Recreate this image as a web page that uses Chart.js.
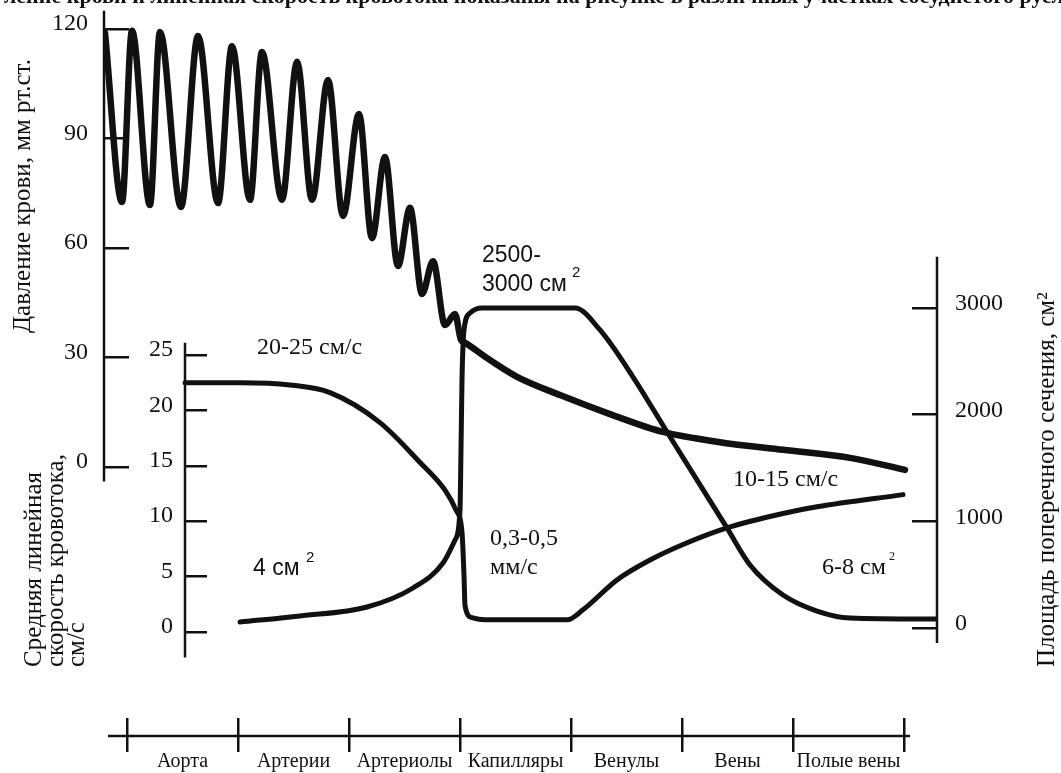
<!doctype html>
<html lang="ru">
<head>
    <meta charset="utf-8">
    <title>Давление крови, скорость кровотока и площадь сечения сосудов</title>
    <script src="https://cdn.jsdelivr.net/npm/chart.js@4.2.1/dist/chart.umd.min.js"></script>
    <style>
        html, body { margin: 0; padding: 0; background: #fff; }
        canvas { display: block; }
    </style>
</head>
<body>
<canvas id="myChart" width="1061" height="773"></canvas>
<script type="text/javascript">
    // отделы сосудистого русла; по оси x 0..7 - границы отделов
    const segments = ['Аорта', 'Артерии', 'Артериолы', 'Капилляры', 'Венулы', 'Вены', 'Полые вены']
    const segmentBounds = [0, 1, 2, 3, 4, 5, 6, 7]

    const pressureTicks = [0, 30, 60, 90, 120]
    const speedTicks = [0, 5, 10, 15, 20, 25]
    const areaTicks = [0, 1000, 2000, 3000]

    // давление крови, мм рт.ст.
    const pressureX = [-0.198, -0.045, 0.045, 0.207, 0.297, 0.486, 0.640, 0.820, 0.946, 1.108,
        1.216, 1.396, 1.532, 1.667, 1.811, 1.946, 2.090, 2.207, 2.324, 2.441,
        2.550, 2.658, 2.757, 2.865, 2.955, 3.009, 3.036, 3.270, 3.514, 3.901,
        4.351, 4.829, 5.342, 5.910, 6.514, 7.009]
    const pressureY = [118.9, 72.6, 119.5, 71.8, 119.2, 71.2, 118.1, 72.3, 115.3, 73.2,
        113.7, 73.2, 111.0, 73.2, 106.0, 68.8, 96.7, 62.7, 84.9, 55.1,
        71.0, 47.4, 56.4, 38.9, 41.9, 34.8, 34.2, 29.3, 24.7, 19.7,
        14.5, 9.6, 6.8, 4.7, 2.5, -0.8]

    // средняя линейная скорость кровотока, см/с
    const speedX = [0.523, 1.018, 1.468, 1.829, 2.279, 2.640, 2.865, 2.964, 3.018, 3.036,
        3.045, 3.108, 3.225, 3.964, 4.108, 4.414, 4.712, 5.009, 5.405, 5.910,
        6.216, 6.991]
    const speedY = [22.5, 22.5, 22.3, 21.6, 18.9, 15.3, 12.8, 11.0, 9.0, 5.1,
        2.4, 1.3, 1.1, 1.1, 2.0, 4.7, 6.5, 7.9, 9.4, 10.7,
        11.3, 12.4]

    // площадь поперечного сечения, см2
    const areaX = [1.018, 1.559, 2.162, 2.577, 2.847, 2.955, 3.000, 3.009, 3.018, 3.036,
        3.090, 3.198, 4.036, 4.261, 4.559, 4.865, 5.405, 5.613, 5.910, 6.216,
        6.514, 7.297]
    const areaY = [56, 113, 197, 375, 609, 825, 1106, 1669, 2325, 2794,
        2953, 3000, 3000, 2794, 2353, 1838, 938, 591, 309, 159,
        94, 84]

    const SERIF = '"Liberation Serif", "DejaVu Serif", serif'
    const SANS = '"Liberation Sans", Arial, sans-serif'
    const INK = '#111'

    // chart area, px; the y scales are fitted so that the ticks land where the figure has them
    const TOP = 10
    const BOTTOM = 718
    const X_MIN = -23 / 111
    const X_MAX = 810 / 111

    function fitRange(zeroPx, topPx, topValue) {
        const k = (zeroPx - topPx) / topValue
        return {min: -(BOTTOM - zeroPx) / k, max: topValue + (topPx - TOP) / k}
    }

    function fixedTicks(values) {
        return scale => {
            scale.ticks = values.map(v => ({value: v}))
        }
    }

    // fixed box size and no extra padding, so the chart area stays where it is set
    function boxSize(width, height) {
        return scale => {
            if (width !== null) scale.width = width
            if (height !== null) scale.height = height
            scale.paddingTop = 0
            scale.paddingBottom = 0
            scale.paddingLeft = 0
            scale.paddingRight = 0
        }
    }

    function points(xs, ys) {
        return xs.map((x, i) => ({x: x, y: ys[i]}))
    }

    const tickFont = {family: SERIF, size: 24}
    const tickGrid = {drawOnChartArea: false, lineWidth: 2.5, color: INK}

    // axis lines only over part of the height, as in the figure
    const spinePlugin = {
        id: 'spines',
        afterDraw(chart, args, opts) {
            const ctx = chart.ctx
            const xs = chart.scales.x
            ctx.save()
            ctx.strokeStyle = INK
            ctx.lineWidth = 2.5
            opts.vertical.forEach(s => {
                const sc = chart.scales[s.id]
                const px = xs.getPixelForValue(s.at)
                ctx.beginPath()
                ctx.moveTo(px, sc.getPixelForValue(s.from))
                ctx.lineTo(px, sc.getPixelForValue(s.to))
                ctx.stroke()
            })
            const y = xs.top + opts.baseOffset
            ctx.beginPath()
            ctx.moveTo(xs.getPixelForValue(opts.baseFrom), y)
            ctx.lineTo(xs.getPixelForValue(opts.baseTo), y)
            ctx.stroke()
            ctx.restore()
        }
    }

    const notesPlugin = {
        id: 'notes',
        afterDraw(chart, args, opts) {
            const ctx = chart.ctx
            ctx.save()
            ctx.fillStyle = INK
            ctx.textAlign = 'left'
            opts.items.forEach(n => {
                ctx.save()
                ctx.font = n.font
                ctx.textBaseline = n.baseline || 'middle'
                ctx.translate(n.x, n.y)
                if (n.rotate) {
                    ctx.rotate(-Math.PI / 2)
                }
                ctx.fillText(n.text, 0, 0)
                ctx.restore()
            })
            ctx.restore()
        }
    }

    const serif24 = `24px ${SERIF}`
    const serif25 = `25px ${SERIF}`
    const notes = [
        {text: 'ление крови и линейная скорость кровотока показаны на рисунке в различных участках сосудистого русла', x: 4, y: 3, font: `bold 22px ${SERIF}`, baseline: 'alphabetic'},
        {text: '20-25 см/с', x: 257, y: 348, font: serif24},
        {text: '2500-', x: 482, y: 256, font: `23px ${SANS}`},
        {text: '3000 см', x: 482, y: 285, font: `23px ${SANS}`},
        {text: '2', x: 572, y: 273, font: `15px ${SANS}`},
        {text: '4 см', x: 253, y: 569, font: `23px ${SANS}`},
        {text: '2', x: 306, y: 558, font: `15px ${SANS}`},
        {text: '0,3-0,5', x: 490, y: 539, font: serif24},
        {text: 'мм/с', x: 490, y: 568, font: serif24},
        {text: '10-15 см/с', x: 733, y: 480, font: serif24},
        {text: '6-8 см', x: 822, y: 568, font: serif24},
        {text: '2', x: 889, y: 557, font: `12px ${SERIF}`},
        {text: 'Давление крови, мм рт.ст.', x: 23, y: 333, font: serif25, rotate: true},
        {text: 'Средняя линейная', x: 34, y: 667, font: serif25, rotate: true},
        {text: 'скорость кровотока,', x: 56, y: 667, font: serif25, rotate: true},
        {text: 'см/с', x: 77, y: 667, font: serif25, rotate: true},
        {text: 'Площадь поперечного сечения, см²', x: 1047, y: 667, font: serif25, rotate: true}
    ]

    const lineStyle = {
        borderColor: INK,
        pointRadius: 0,
        fill: false,
        cubicInterpolationMode: 'monotone',
        borderJoinStyle: 'round',
        borderCapStyle: 'round'
    }

    const config = {
        type: 'line',
        data: {
            datasets: [
                {label: 'Давление крови', data: points(pressureX, pressureY), yAxisID: 'yP', borderWidth: 6.5, ...lineStyle},
                {label: 'Линейная скорость', data: points(speedX, speedY), yAxisID: 'yV', borderWidth: 5, ...lineStyle},
                {label: 'Площадь сечения', data: points(areaX, areaY), yAxisID: 'yA', borderWidth: 5, ...lineStyle}
            ]
        },
        options: {
            responsive: false,
            animation: false,
            devicePixelRatio: 1,
            layout: {autoPadding: false, padding: {left: 0, right: 0, top: TOP, bottom: 0}},
            plugins: {
                legend: {display: false},
                tooltip: {enabled: false},
                spines: {
                    vertical: [
                        {id: 'yP', at: X_MIN, from: -4, to: 125},
                        {id: 'yV', at: 58 / 111, from: -2.3, to: 26.1},
                        {id: 'yA', at: X_MAX, from: -140, to: 3480}
                    ],
                    baseOffset: 18,
                    baseFrom: -0.171,
                    baseTo: 7.054
                },
                notes: {items: notes}
            },
            scales: {
                x: {
                    type: 'linear', position: 'bottom', weight: 0, bounds: 'data',
                    min: X_MIN, max: X_MAX,
                    afterBuildTicks: fixedTicks(segmentBounds),
                    afterFit: boxSize(null, 34),
                    ticks: {display: false},
                    grid: {...tickGrid, tickLength: 34},
                    border: {display: false}
                },
                xl: {
                    type: 'linear', axis: 'x', position: 'bottom', weight: 1, bounds: 'data',
                    min: X_MIN, max: X_MAX,
                    afterBuildTicks: fixedTicks(segments.map((s, i) => i + 0.5)),
                    afterFit: boxSize(null, 21),
                    ticks: {
                        autoSkip: false, maxRotation: 0, padding: -2, color: INK,
                        font: {family: SERIF, size: 20},
                        callback: (v, i) => segments[i]
                    },
                    grid: {display: false, drawTicks: false},
                    border: {display: false}
                },
                yP: {
                    type: 'linear', axis: 'y', position: 'left', bounds: 'data',
                    ...fitRange(467, 29, 120),
                    afterBuildTicks: fixedTicks(pressureTicks),
                    afterFit: boxSize(104, null),
                    ticks: {padding: 41, labelOffset: -5, color: INK, font: tickFont, callback: v => String(v)},
                    grid: {...tickGrid, tickLength: -25},
                    border: {display: false}
                },
                yV: {
                    type: 'linear', axis: 'y', position: {x: 58 / 111}, bounds: 'data',
                    ...fitRange(632, 355, 25),
                    afterBuildTicks: fixedTicks(speedTicks),
                    afterFit: boxSize(null, null),
                    // labels of an axis placed inside the plot sit right at the line, en space moves them off it
                    ticks: {labelOffset: -5, color: INK, font: tickFont, callback: v => v + '\u2002'},
                    grid: {...tickGrid, tickLength: -22},
                    border: {display: false}
                },
                yA: {
                    type: 'linear', axis: 'y', position: 'right', bounds: 'data',
                    ...fitRange(628, 308, 3000),
                    afterBuildTicks: fixedTicks(areaTicks),
                    afterFit: boxSize(124, null),
                    ticks: {padding: 43, labelOffset: -4, crossAlign: 'near', color: INK, font: tickFont, callback: v => String(v)},
                    grid: {...tickGrid, tickLength: -25},
                    border: {display: false}
                }
            }
        },
        plugins: [spinePlugin, notesPlugin]
    }

    const ctx = document.getElementById('myChart')
    const myChart = new Chart(ctx, config)
</script>
</body>
</html>
